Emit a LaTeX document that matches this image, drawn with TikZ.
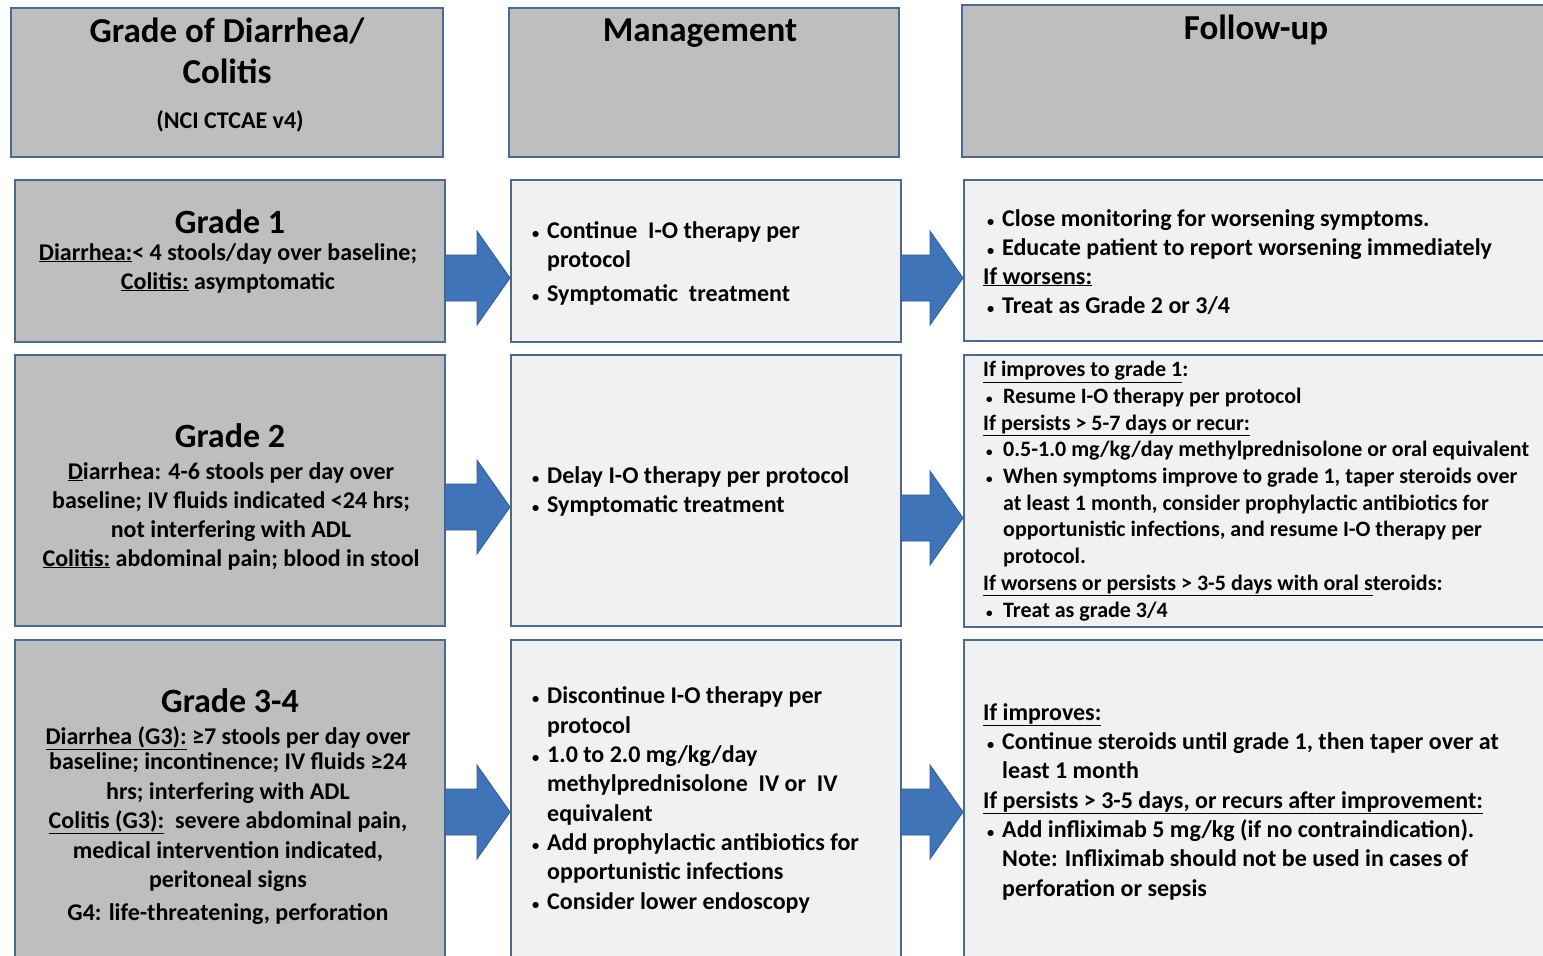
\documentclass[tikz,border=0pt]{standalone}
\usepackage{fontspec}
\usepackage{graphicx}
\setmainfont{Carlito}
\usetikzlibrary{calc,fit}
\definecolor{hdrgray}{HTML}{BEBEBE}
\definecolor{lightbox}{HTML}{F1F1F1}
\definecolor{edgeblue}{HTML}{4A6A92}
\definecolor{arrowblue}{HTML}{3F74B8}
\definecolor{arrowedge}{HTML}{2E5C96}
\newcommand\fhead{\fontsize{35}{41}\selectfont\bfseries}
\newcommand\fsmallhd{\fontsize{24}{28}\selectfont\bfseries}
\newcommand\fgrade{\fontsize{34}{38}\selectfont\bfseries}
\newcommand\fbody{\fontsize{24}{29}\selectfont\bfseries}
\newcommand\fbodyb{\fontsize{24}{29.3}\selectfont\bfseries}
\newcommand\fbodyc{\fontsize{24}{29.5}\selectfont\bfseries}
\newcommand\fsmallbody{\fontsize{22}{26.7}\selectfont\bfseries}
\newcommand\bul{\makebox[15pt][l]{\scalebox{0.6}{\textbullet}}}
\newcommand\bulb{\makebox[17pt][l]{\scalebox{0.6}{\textbullet}}}
\newcommand\ind{\hspace*{15pt}}
\newcommand\fatarrow[3]{%
  \coordinate (ay) at (0,#3);
  \coordinate (as) at (#1.east |- ay);
  \coordinate (at) at (#2.west |- ay);
  \filldraw[fat] ($(as)+(-1,-23)$) -- ($(at)+(-33,-23)$) -- ($(at)+(-33,-47)$) -- (at)
    -- ($(at)+(-33,47)$) -- ($(at)+(-33,23)$) -- ($(as)+(-1,23)$) -- cycle;}
\begin{document}
\begin{tikzpicture}[x=1pt,y=-1pt,
  graybox/.style={draw=edgeblue, line width=2pt, fill=hdrgray, inner sep=0pt},
  lightbx/.style={draw=edgeblue, line width=2pt, fill=lightbox, inner sep=0pt},
  txt/.style={inner sep=0pt, align=left, anchor=base west},
  ctxt/.style={inner sep=0pt, align=center, anchor=base},
  fat/.style={fill=arrowblue, draw=arrowedge, line width=0.8pt, line join=miter}]
\clip (0,0) rectangle (1543,956);
\fill[white] (0,0) rectangle (1543,956);
% header row
\node[graybox, fit={(11,8)(443,157)}] (hA) {};
\node[graybox, fit={(509,8)(899,157)}] (hB) {};
\node[graybox, fit={(962,5)(1560,157)}] (hC) {};
% row 1
\node[graybox, fit={(15,180)(445,342)}] (g1) {};
\node[lightbx, fit={(511,180)(901,342)}] (m1) {};
\node[lightbx, fit={(964,180)(1560,341)}] (f1) {};
% row 2
\node[graybox, fit={(15,355)(445,626)}] (g2) {};
\node[lightbx, fit={(511,355)(901,626)}] (m2) {};
\node[lightbx, fit={(964,355)(1560,627)}] (f2) {};
% row 3
\node[graybox, fit={(15,640)(445,980)}] (g3) {};
\node[lightbx, fit={(511,640)(901,980)}] (m3) {};
\node[lightbx, fit={(964,640)(1560,980)}] (f3) {};
% arrows
\fatarrow{g1}{m1}{278}
\fatarrow{m1}{f1}{278}
\fatarrow{g2}{m2}{507}
\fatarrow{m2}{f2}{518}
\fatarrow{g3}{m3}{812}
\fatarrow{m3}{f3}{812}
% header texts (multi-line nodes are anchored at the baseline of their last line)
\node[ctxt, font=\fhead] (hAt) at (227,83) {Grade of Diarrhea/\\Colitis};
\node[ctxt, font=\fsmallhd] (hAs) at (230,128) {(NCI CTCAE v4)};
\node[ctxt, font=\fhead] (hBt) at (700,41) {Management};
\node[ctxt, font=\fhead] (hCt) at (1256,39) {Follow-up};
% row 1 texts
\node[ctxt, font=\fgrade] (g1t) at (230,233) {Grade 1};
\node[ctxt, font=\fbody] (g1d) at (228,289) {\underline{Diarrhea:}< 4 stools/day over baseline;\\\underline{Colitis:} asymptomatic};
\node[txt, font=\fbody] (m1t) at (532,301) {\bul Continue\ \ I-O therapy per\\\ind protocol\\[5pt]\bul Symptomatic\ \ treatment};
\node[txt, font=\fbody] (f1t) at (983,313) {\hspace*{4pt}\bul Close monitoring for worsening symptoms.\\\hspace*{4pt}\bul Educate patient to report worsening immediately\\\underline{If worsens:}\\\hspace*{4pt}\bul Treat as Grade 2 or 3/4};
% row 2 texts
\node[ctxt, font=\fgrade] (g2t) at (230,447) {Grade 2};
\node[ctxt, font=\fbody] (g2d) at (231,566) {\underline{D}iarrhea: 4-6 stools per day over\\baseline; IV fluids indicated <24 hrs;\\not interfering with ADL\\\underline{Colitis:} abdominal pain; blood in stool};
\node[txt, font=\fbody] (m2t) at (532,512) {\bul Delay I-O therapy per protocol\\\bul Symptomatic treatment};
\node[txt, font=\fsmallbody] (f2t) at (983,617) {\underline{If improves to grade 1}:\\\hspace*{3pt}\bulb Resume I-O therapy per protocol\\\underline{If persists > 5-7 days or recur:}\\\hspace*{3pt}\bulb 0.5-1.0 mg/kg/day methylprednisolone or oral equivalent\\\hspace*{3pt}\bulb When symptoms improve to grade 1, taper steroids over\\\hspace*{20pt}at least 1 month, consider prophylactic antibiotics for\\\hspace*{20pt}opportunistic infections, and resume I-O therapy per\\\hspace*{20pt}protocol.\\\underline{If worsens or persists > 3-5 days with oral s}teroids:\\\hspace*{3pt}\bulb Treat as grade 3/4};
% row 3 texts
\node[ctxt, font=\fgrade] (g3t) at (230,712) {Grade 3-4};
\node[ctxt, font=\fbodyc] (g3d) at (228,920) {\underline{Diarrhea (G3):} ≥7 stools per day over\\[-4pt]baseline; incontinence; IV fluids ≥24\\hrs; interfering with ADL\\\underline{Colitis (G3):}\ \ severe abdominal pain,\\medical intervention indicated,\\peritoneal signs\\[3pt]G4: life-threatening, perforation};
\node[txt, font=\fbodyb] (m3t) at (532,909) {\bul Discontinue I-O therapy per\\\ind protocol\\\bul 1.0 to 2.0 mg/kg/day\\\ind methylprednisolone\ \ IV or\ \ IV\\\ind equivalent\\\bul Add prophylactic antibiotics for\\\ind opportunistic infections\\\bul Consider lower endoscopy};
\node[txt, font=\fbodyb] (f3t) at (983,896) {\underline{If improves:}\\\hspace*{4pt}\bul Continue steroids until grade 1, then taper over at\\\hspace*{19pt}least 1 month\\\underline{If persists > 3-5 days, or recurs after improvement:}\\\hspace*{4pt}\bul Add infliximab 5 mg/kg (if no contraindication).\\\hspace*{19pt}Note: Infliximab should not be used in cases of\\\hspace*{19pt}perforation or sepsis};
\end{tikzpicture}
\end{document}
